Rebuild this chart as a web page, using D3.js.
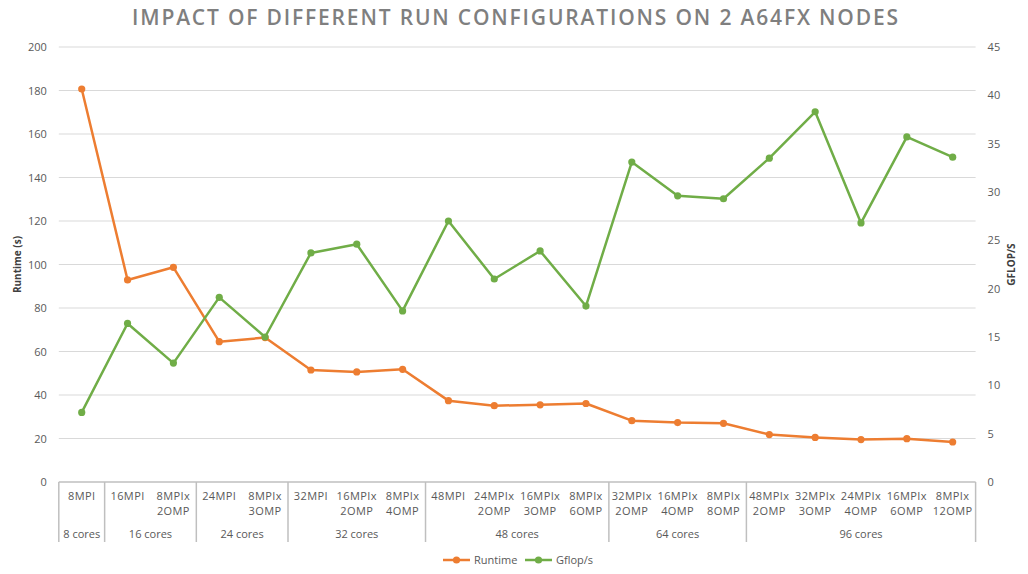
<!DOCTYPE html>
<html>
<head>
<meta charset="utf-8">
<script src="https://cdn.jsdelivr.net/npm/d3@7"></script>
<style>
  body { margin: 0; background: #fff; }
  text { font-family: "Open Sans", "Noto Sans", sans-serif; }
</style>
</head>
<body>
<div id="chart"></div>
<script>
// run configurations (two-line labels), core-count groups and measured values
const configs = ["8MPI", "16MPI", "8MPIx|2OMP", "24MPI", "8MPIx|3OMP", "32MPI", "16MPIx|2OMP",
  "8MPIx|4OMP", "48MPI", "24MPIx|2OMP", "16MPIx|3OMP", "8MPIx|6OMP", "32MPIx|2OMP",
  "16MPIx|4OMP", "8MPIx|8OMP", "48MPIx|2OMP", "32MPIx|3OMP", "24MPIx|4OMP", "16MPIx|6OMP", "8MPIx|12OMP"];
const groups = [
  { name: "8 cores", size: 1 }, { name: "16 cores", size: 2 }, { name: "24 cores", size: 2 },
  { name: "32 cores", size: 3 }, { name: "48 cores", size: 4 }, { name: "64 cores", size: 3 },
  { name: "96 cores", size: 5 }
];
const runtime = [180.7, 92.9, 98.7, 64.5, 66.4, 51.5, 50.6, 51.8, 37.4, 35.1,
  35.5, 36.1, 28.2, 27.3, 27.0, 21.8, 20.5, 19.5, 19.9, 18.4];
const gflops = [7.2, 16.4, 12.3, 19.1, 15.0, 23.7, 24.6, 17.7, 27.0, 21.0,
  23.9, 18.2, 33.1, 29.6, 29.3, 33.5, 38.3, 26.8, 35.7, 33.6];
const leftTicks = d3.range(0, 201, 20);
const rightTicks = d3.range(0, 46, 5);

const width = 1028, height = 574;
const plotLeft = 58.8, plotRight = 975.6, plotTop = 47, plotBottom = 482;
const orange = "#ED7D31", green = "#70AD47", labelColor = "#595959";

const svg = d3.select("#chart").append("svg")
  .attr("width", width).attr("height", height);

const x = d3.scaleBand().domain(d3.range(configs.length)).range([plotLeft, plotRight]);
const yL = d3.scaleLinear().domain([0, 200]).range([plotBottom, plotTop]);
const yR = d3.scaleLinear().domain([0, 45]).range([plotBottom, plotTop]);

// title
svg.append("text")
  .attr("x", 515).attr("y", 25)
  .attr("text-anchor", "middle")
  .attr("font-size", 21).attr("font-weight", 600)
  .attr("fill", "#7f7f7f")
  .attr("textLength", 766).attr("lengthAdjust", "spacing")
  .text("IMPACT OF DIFFERENT RUN CONFIGURATIONS ON 2 A64FX NODES");

// gridlines
svg.append("g").selectAll("line")
  .data(leftTicks.filter(d => d > 0))
  .enter().append("line")
  .attr("x1", plotLeft).attr("x2", plotRight)
  .attr("y1", d => yL(d)).attr("y2", d => yL(d))
  .attr("stroke", "#d9d9d9").attr("stroke-width", 1);

// left axis
const axL = svg.append("g").attr("transform", `translate(${plotLeft - 12},0)`)
  .call(d3.axisLeft(yL).tickValues(leftTicks).tickSize(0).tickPadding(0));
axL.select(".domain").remove();
axL.selectAll("text").attr("font-size", 11).attr("fill", labelColor)
  .attr("font-family", "Open Sans, sans-serif");

// right axis
const axR = svg.append("g").attr("transform", `translate(${plotRight + 12},0)`)
  .call(d3.axisRight(yR).tickValues(rightTicks).tickSize(0).tickPadding(0));
axR.select(".domain").remove();
axR.selectAll("text").attr("font-size", 11).attr("fill", labelColor)
  .attr("font-family", "Open Sans, sans-serif");

// axis titles
svg.append("text")
  .attr("transform", `translate(21,${(plotTop + plotBottom) / 2}) rotate(-90)`)
  .attr("text-anchor", "middle").attr("font-size", 10).attr("font-weight", "bold")
  .attr("fill", "#404040").text("Runtime (s)");
svg.append("text")
  .attr("transform", `translate(1015,${(plotTop + plotBottom) / 2}) rotate(-90)`)
  .attr("text-anchor", "middle").attr("font-size", 10).attr("font-weight", "bold")
  .attr("fill", "#404040").text("GFLOP/S");

// category axis (two levels)
const axisColor = "#bfbfbf";
svg.append("line")
  .attr("x1", plotLeft).attr("x2", plotRight).attr("y1", plotBottom).attr("y2", plotBottom)
  .attr("stroke", axisColor).attr("stroke-width", 1.5);

let start = 0;
const groupPos = groups.map(g => {
  const p = { name: g.name, x0: x(start), x1: x(start + g.size - 1) + x.bandwidth() };
  start += g.size;
  return p;
});
const bounds = [plotLeft].concat(groupPos.map(g => g.x1));
svg.append("g").selectAll("line")
  .data(bounds).enter().append("line")
  .attr("x1", d => d).attr("x2", d => d)
  .attr("y1", plotBottom).attr("y2", 542)
  .attr("stroke", axisColor).attr("stroke-width", 1.5);

const catText = svg.append("g").selectAll("text")
  .data(configs).enter().append("text")
  .attr("text-anchor", "middle").attr("font-size", 11).attr("fill", labelColor)
  .attr("letter-spacing", 0.4);
catText.each(function(d, i) {
  const parts = d.split("|");
  parts.forEach((p, j) => {
    d3.select(this).append("tspan")
      .attr("x", x(i) + x.bandwidth() / 2)
      .attr("y", 500 + j * 15)
      .text(p);
  });
});

svg.append("g").selectAll("text")
  .data(groupPos).enter().append("text")
  .attr("x", d => (d.x0 + d.x1) / 2).attr("y", 538)
  .attr("text-anchor", "middle").attr("font-size", 11).attr("fill", labelColor)
  .text(d => d.name);

// series
function drawSeries(values, scale, color) {
  const line = d3.line().x((d, i) => x(i) + x.bandwidth() / 2).y(d => scale(d));
  svg.append("path").datum(values)
    .attr("d", line).attr("fill", "none")
    .attr("stroke", color).attr("stroke-width", 2.5).attr("stroke-linejoin", "round");
  svg.append("g").selectAll("circle")
    .data(values).enter().append("circle")
    .attr("cx", (d, i) => x(i) + x.bandwidth() / 2)
    .attr("cy", d => scale(d))
    .attr("r", 3.6).attr("fill", color);
}
drawSeries(runtime, yL, orange);
drawSeries(gflops, yR, green);

// legend
const legend = [{ name: "Runtime", color: orange, x: 443 }, { name: "Gflop/s", color: green, x: 525 }];
const lg = svg.append("g").selectAll("g").data(legend).enter().append("g")
  .attr("transform", d => `translate(${d.x},560)`);
lg.append("line").attr("x1", 0).attr("x2", 27).attr("stroke", d => d.color).attr("stroke-width", 2.5);
lg.append("circle").attr("cx", 13.5).attr("r", 3.6).attr("fill", d => d.color);
lg.append("text").attr("x", 31).attr("y", 4).attr("font-size", 11).attr("fill", labelColor)
  .text(d => d.name);
</script>
</body>
</html>
